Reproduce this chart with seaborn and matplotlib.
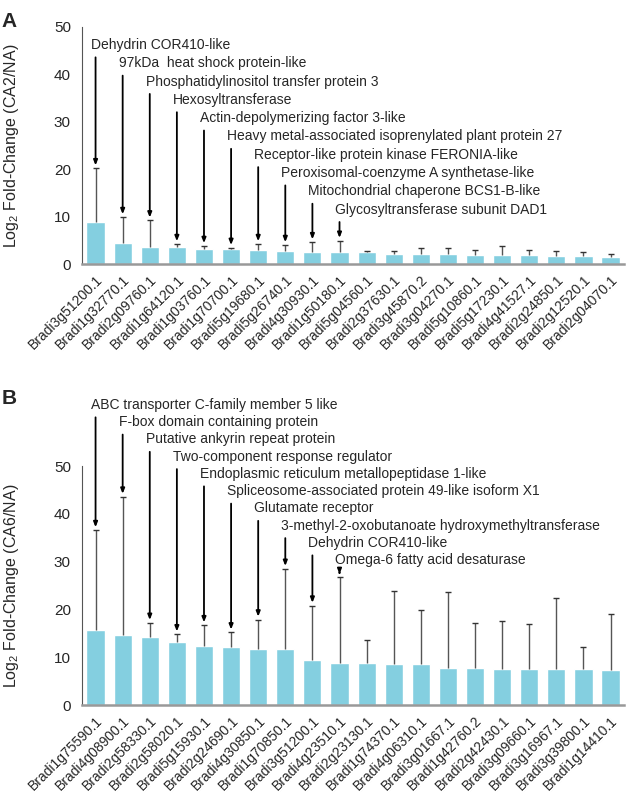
import numpy as np
import pandas as pd
import seaborn as sns
import matplotlib.pyplot as plt

# panel A : CA2/NA
genes_a = ["Bradi3g51200.1", "Bradi1g32770.1", "Bradi2g09760.1", "Bradi1g64120.1", "Bradi1g03760.1",
           "Bradi1g70700.1", "Bradi5g19680.1", "Bradi5g26740.1", "Bradi4g30930.1", "Bradi1g50180.1",
           "Bradi5g04560.1", "Bradi2g37630.1", "Bradi3g45870.2", "Bradi3g04270.1", "Bradi5g10860.1",
           "Bradi5g17230.1", "Bradi4g41527.1", "Bradi2g24850.1", "Bradi2g12520.1", "Bradi2g04070.1"]
fc_a = [8.9, 4.4, 3.5, 3.5, 3.2, 3.2, 3.0, 2.8, 2.5, 2.5,
        2.5, 2.1, 2.1, 2.1, 1.9, 1.9, 1.9, 1.7, 1.7, 1.5]
err_top_a = [20.2, 9.9, 9.2, 4.2, 3.8, 3.4, 4.2, 4.0, 4.6, 4.9,
             2.8, 2.8, 3.4, 3.4, 3.0, 3.8, 3.0, 2.8, 2.5, 2.1]
names_a = ["Dehydrin COR410-like",
           "97kDa  heat shock protein-like",
           "Phosphatidylinositol transfer protein 3",
           "Hexosyltransferase",
           "Actin-depolymerizing factor 3-like",
           "Heavy metal-associated isoprenylated plant protein 27",
           "Receptor-like protein kinase FERONIA-like",
           "Peroxisomal-coenzyme A synthetase-like",
           "Mitochondrial chaperone BCS1-B-like",
           "Glycosyltransferase subunit DAD1"]

# panel B : CA6/NA
genes_b = ["Bradi1g75590.1", "Bradi4g08900.1", "Bradi2g58330.1", "Bradi2g58020.1", "Bradi5g15930.1",
           "Bradi2g24690.1", "Bradi4g30850.1", "Bradi1g70850.1", "Bradi3g51200.1", "Bradi4g23510.1",
           "Bradi2g23130.1", "Bradi1g74370.1", "Bradi4g06310.1", "Bradi3g01667.1", "Bradi1g42760.2",
           "Bradi2g42430.1", "Bradi3g09660.1", "Bradi3g16967.1", "Bradi3g39800.1", "Bradi1g14410.1"]
fc_b = [15.8, 14.6, 14.3, 13.2, 12.3, 12.2, 11.8, 11.8, 9.4, 8.9,
        8.9, 8.6, 8.6, 7.7, 7.7, 7.6, 7.6, 7.5, 7.5, 7.3]
err_top_b = [36.6, 43.6, 17.2, 14.8, 16.7, 15.2, 17.9, 28.5, 20.8, 26.8,
             13.7, 23.9, 19.9, 23.6, 17.2, 17.6, 16.9, 22.3, 12.1, 19.0]
names_b = ["ABC transporter C-family member 5 like",
           "F-box domain containing protein",
           "Putative ankyrin repeat protein",
           "Two-component response regulator",
           "Endoplasmic reticulum metallopeptidase 1-like",
           "Spliceosome-associated protein 49-like isoform X1",
           "Glutamate receptor",
           "3-methyl-2-oxobutanoate hydroxymethyltransferase",
           "Dehydrin COR410-like",
           "Omega-6 fatty acid desaturase"]

sns.set_style("white")
plt.rcParams['font.family'] = ['Liberation Sans', 'DejaVu Sans']
plt.rcParams['mathtext.default'] = 'regular'

bar_color = "#84CFE0"

fig = plt.figure(figsize=(6.26, 7.94), dpi=100)
ax_a = fig.add_axes([0.131, 0.6675, 0.866, 0.2985])
ax_b = fig.add_axes([0.131, 0.112, 0.866, 0.301])


def draw_panel(ax, genes, fc, err_top, names, ylab, y0, step):
    df = pd.DataFrame({"gene": genes, "fc": fc})
    sns.barplot(data=df, x="gene", y="fc", color=bar_color, saturation=1, width=0.67, ax=ax)
    # only the upper half of the error bar, as in the figure
    xs = np.arange(len(genes))
    ax.vlines(xs, fc, err_top, color="#555555", lw=1, zorder=3)
    ax.plot(xs, err_top, ls="none", marker="_", ms=4, mew=1, color="#333333", zorder=3)
    ax.set_xlim(-0.5, len(genes) - 0.5)
    ax.set_ylim(0, 50)
    ax.set_yticks([0, 10, 20, 30, 40, 50])
    ax.set_xlabel("")
    ax.set_ylabel(ylab, fontsize=11.5)
    ax.yaxis.set_label_coords(-0.112, 0.5)
    for s in ["top", "right"]:
        ax.spines[s].set_visible(False)
    ax.spines["left"].set_color("#555555")
    ax.spines["left"].set_linewidth(0.8)
    ax.spines["bottom"].set_color("#999999")
    ax.spines["bottom"].set_linewidth(1.8)
    ax.tick_params(axis="y", length=5, width=0.8, color="#555555", labelsize=11, pad=3)
    ax.tick_params(axis="x", length=4, width=0.8, color="#555555", labelsize=10, pad=2)
    plt.setp(ax.get_xticklabels(), rotation=45, ha="right", rotation_mode="anchor")
    for i, name in enumerate(names):
        yt = y0 - step * i
        ax.text(i - 0.15, yt, name, fontsize=10, va="center", ha="left", clip_on=False)
        ax.annotate("", xy=(i, err_top[i] + 0.6), xytext=(i, yt - 2.6),
                    arrowprops=dict(arrowstyle="-|>,head_length=0.3,head_width=0.12",
                                    color="black", lw=1.3, shrinkA=0, shrinkB=0),
                    annotation_clip=False)


draw_panel(ax_a, genes_a, fc_a, err_top_a, names_a, "Log$_2$ Fold-Change (CA2/NA)", 46.2, 3.86)
draw_panel(ax_b, genes_b, fc_b, err_top_b, names_b, "Log$_2$ Fold-Change (CA6/NA)", 62.8, 3.61)

fig.text(0.003, 0.985, "A", fontsize=15, fontweight="bold", va="top")
fig.text(0.003, 0.51, "B", fontsize=15, fontweight="bold", va="top")

fig.savefig("out.png", dpi=100)
